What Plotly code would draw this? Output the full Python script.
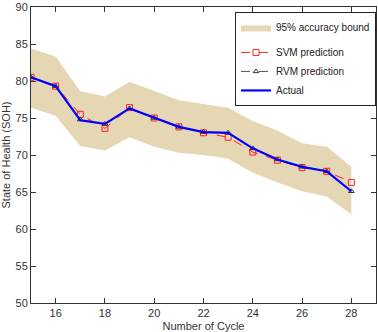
import plotly.graph_objects as go

cycles = [15, 16, 17, 18, 19, 20, 21, 22, 23, 24, 25, 26, 27, 28]
actual = [80.5, 79.3, 74.7, 74.2, 76.3, 75.0, 73.8, 73.1, 73.0, 70.9, 69.4, 68.4, 67.8, 65.1]
svm = [80.5, 79.3, 75.5, 73.6, 76.4, 75.0, 73.8, 73.0, 72.4, 70.4, 69.3, 68.3, 67.8, 66.3]
rvm = [80.5, 79.3, 74.8, 74.2, 76.3, 75.0, 73.8, 73.1, 73.0, 70.9, 69.4, 68.4, 67.8, 65.1]
upper = [84.4, 83.3, 78.6, 77.9, 79.9, 78.6, 77.4, 76.9, 76.4, 74.6, 73.3, 71.6, 71.1, 68.4]
lower = [76.4, 75.3, 71.2, 70.6, 72.4, 71.1, 70.3, 70.0, 69.5, 67.6, 66.3, 65.1, 64.4, 62.0]

font_family = "Liberation Sans, Arial, sans-serif"

fig = go.Figure()
fig.add_trace(go.Scatter(
    x=cycles + cycles[::-1], y=upper + lower[::-1],
    fill="toself", fillcolor="#E6D7B4", line=dict(width=0, color="#E6D7B4"),
    mode="lines", name="95% accuracy bound", legendgroup="a", hoverinfo="skip"))
fig.add_trace(go.Scatter(
    x=cycles, y=svm, mode="lines+markers", name="SVM prediction", legendgroup="b",
    line=dict(color="#FF2020", width=1, dash="dash"),
    marker=dict(symbol="square-open", size=6, color="#FF2020", line=dict(width=1))))
fig.add_trace(go.Scatter(
    x=cycles, y=rvm, mode="lines+markers", name="RVM prediction", legendgroup="b",
    line=dict(color="#555555", width=1, dash="dash"),
    marker=dict(symbol="triangle-up-open", size=5, color="#333333", line=dict(width=1))))
fig.add_trace(go.Scatter(
    x=cycles, y=actual, mode="lines", name="Actual", legendgroup="b",
    line=dict(color="#0000FF", width=2.2)))

axis_common = dict(
    showgrid=False, zeroline=False, showline=True, linecolor="#333333", linewidth=1,
    mirror="allticks", ticks="inside", ticklen=5, tickcolor="#333333",
    ticklabeloverflow="allow",
    tickfont=dict(family=font_family, size=11, color="#333333"))

fig.update_layout(
    width=378, height=332,
    margin=dict(l=31, r=1, t=5, b=27),
    paper_bgcolor="white", plot_bgcolor="white",
    font=dict(family=font_family, size=11, color="#333333"),
    showlegend=True,
    legend=dict(
        x=1, xanchor="right", y=1 - 5 / 300, yanchor="top",
        bgcolor="white", bordercolor="#222222", borderwidth=1,
        font=dict(family=font_family, size=10, color="#222222"),
        tracegroupgap=6, traceorder="grouped", itemwidth=30,
    ),
    xaxis=dict(range=[15, 29], tickvals=[16, 18, 20, 22, 24, 26, 28],
               title=dict(text="Number of Cycle", standoff=4,
                          font=dict(family=font_family, size=11, color="#333333")),
               **axis_common),
    yaxis=dict(range=[50, 90], tickvals=[50, 55, 60, 65, 70, 75, 80, 85, 90],
               title=dict(text="State of Health (SOH)", standoff=2,
                          font=dict(family=font_family, size=11, color="#333333")),
               **axis_common),
)

fig.write_html("out.html")
